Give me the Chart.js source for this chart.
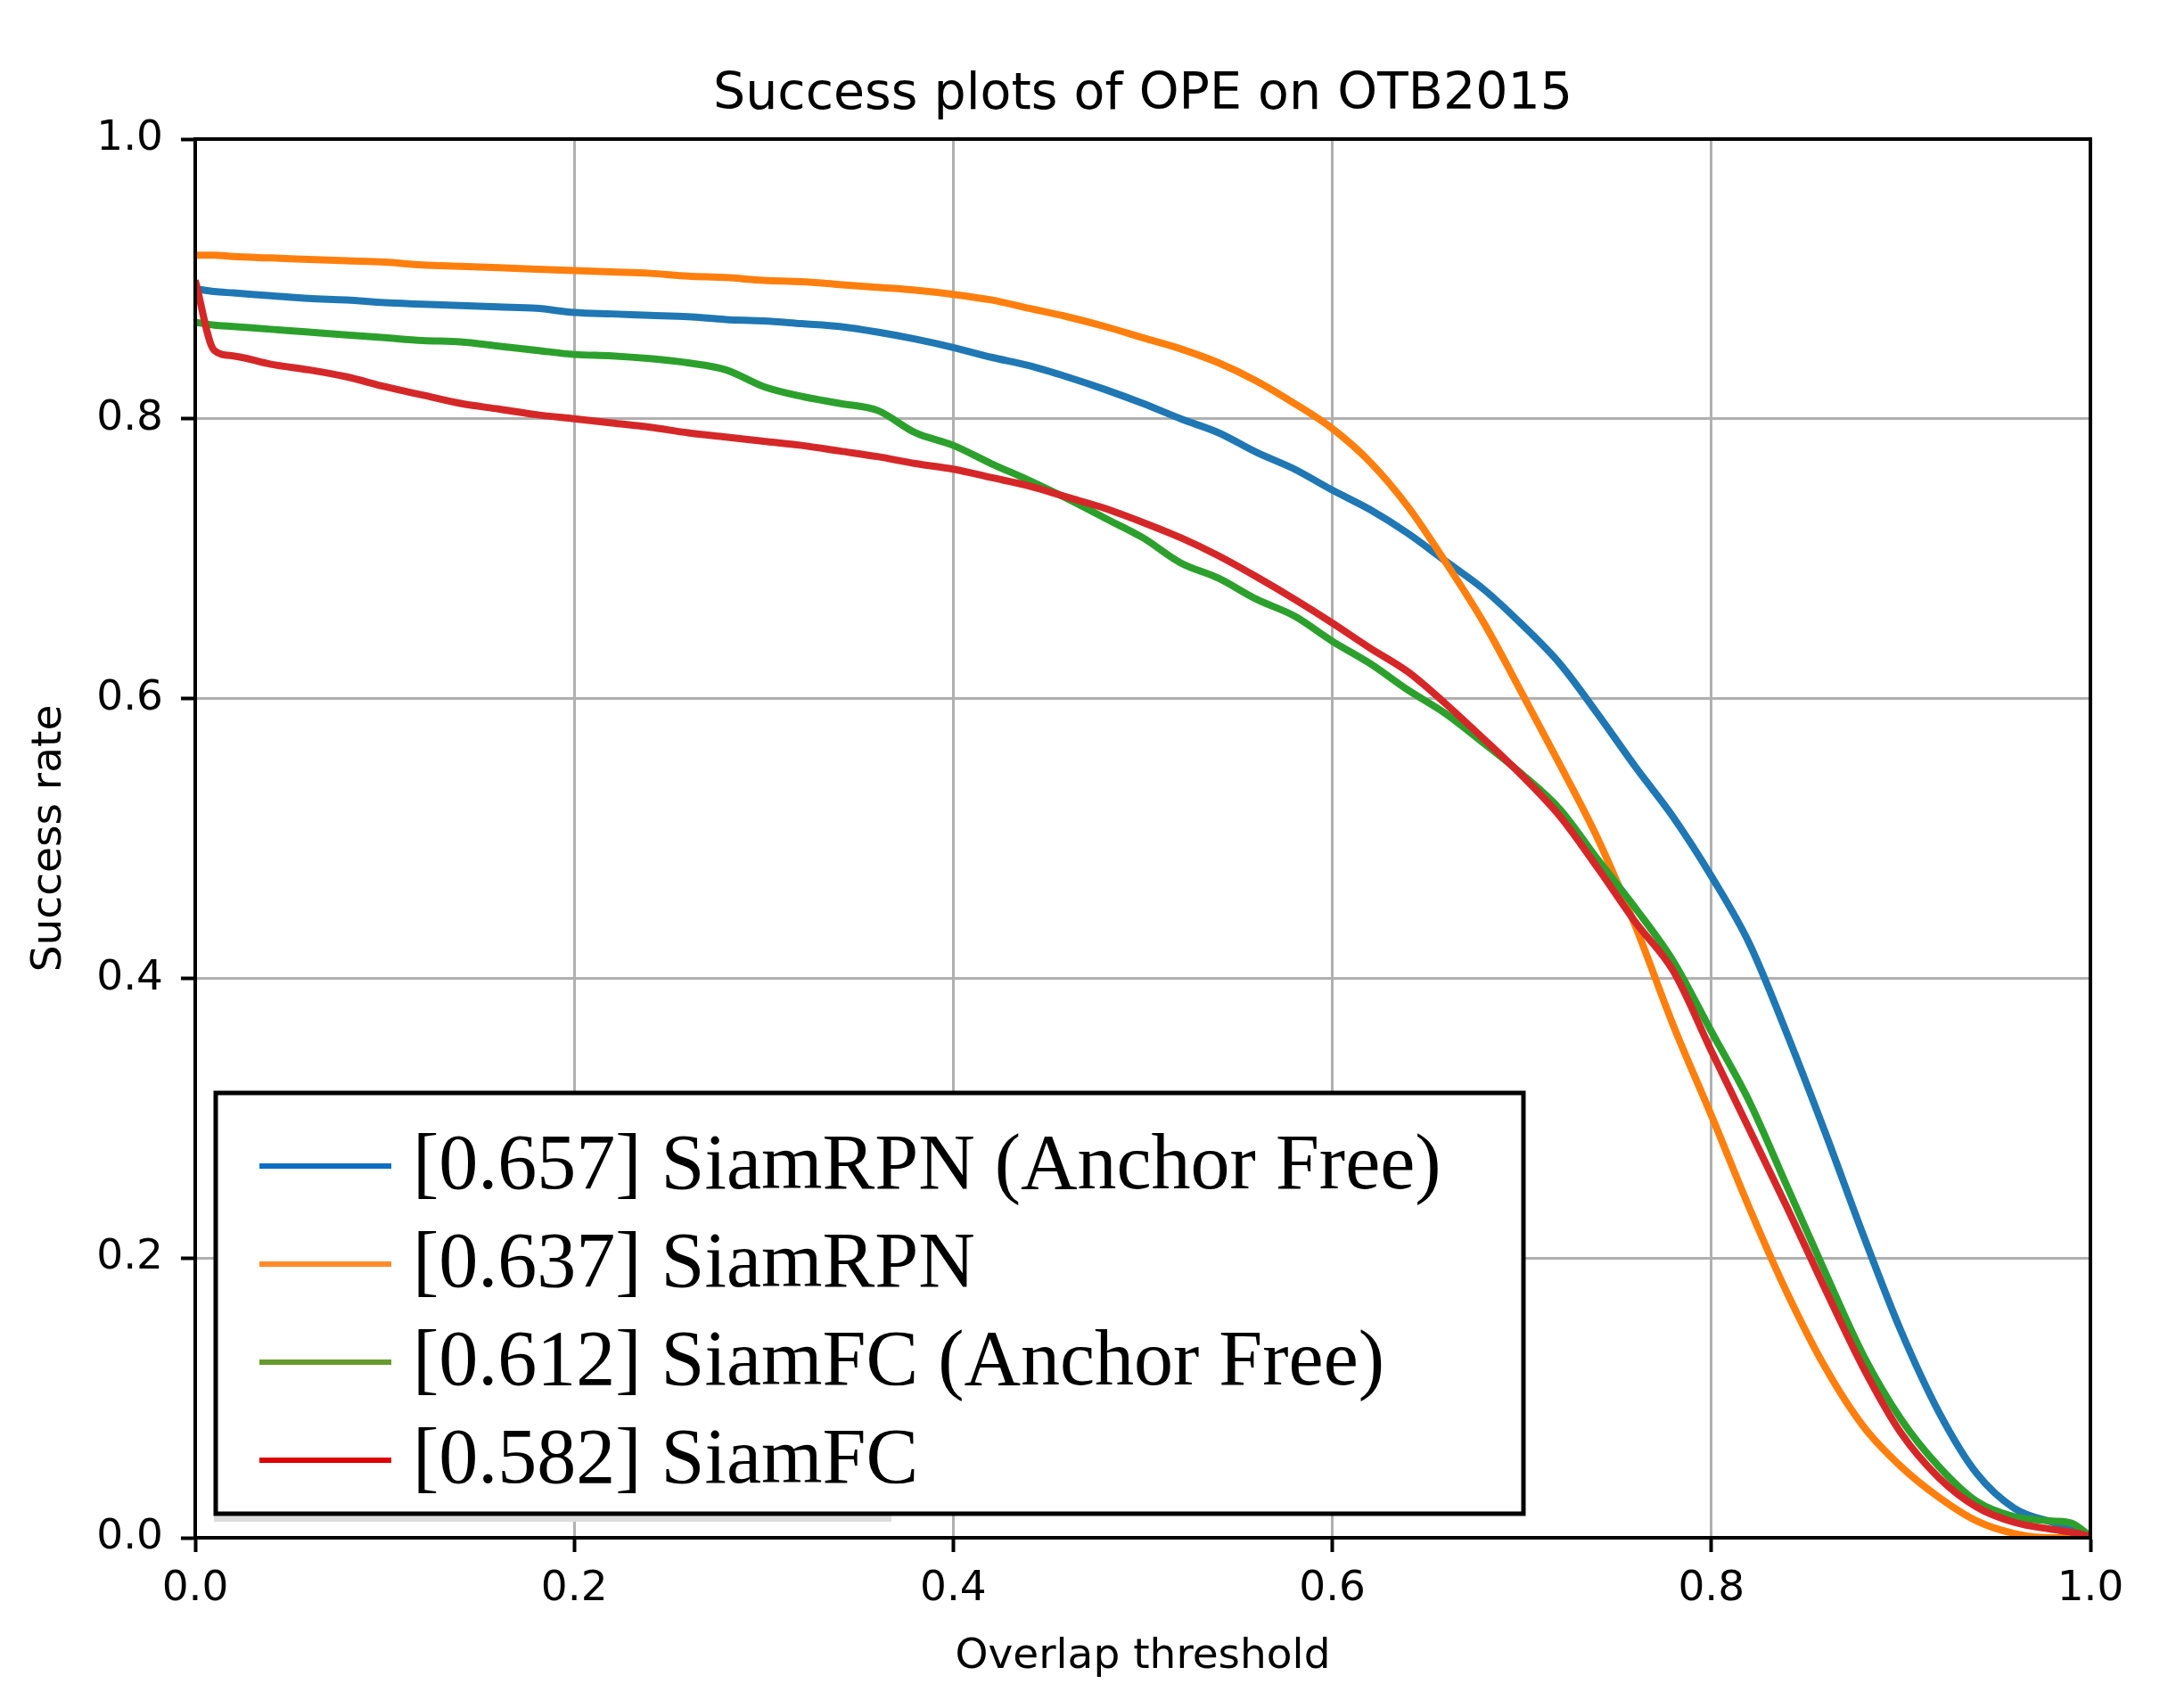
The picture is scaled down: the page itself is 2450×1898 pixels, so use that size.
<!DOCTYPE html>
<html>
<head>
<meta charset="utf-8">
<script src="https://cdn.jsdelivr.net/npm/chart.js@4.4.1/dist/chart.umd.min.js"></script>
<style>
html,body{margin:0;padding:0;background:#ffffff;}
canvas{display:block;}
</style>
</head>
<body>
<canvas id="c" width="2450" height="1898" style="width:2450px;height:1898px"></canvas>
<script>
// ---- data ----
const chartTitle = 'Success plots of OPE on OTB2015';
const xAxisTitle = 'Overlap threshold';
const yAxisTitle = 'Success rate';
const tickValues = [0.0, 0.2, 0.4, 0.6, 0.8, 1.0];

const thresholds = [0, 0.01, 0.02, 0.04, 0.06, 0.08, 0.10, 0.12, 0.14, 0.16, 0.18, 0.20,
  0.22, 0.24, 0.26, 0.28, 0.30, 0.32, 0.34, 0.36, 0.38, 0.40, 0.42, 0.44, 0.46, 0.48, 0.50,
  0.52, 0.54, 0.56, 0.58, 0.60, 0.62, 0.64, 0.66, 0.68, 0.70, 0.72, 0.74, 0.76, 0.78, 0.80,
  0.82, 0.84, 0.86, 0.88, 0.90, 0.92, 0.94, 0.96, 0.98, 0.99, 1.00];

const seriesLabels = [
  '[0.657] SiamRPN (Anchor Free)',
  '[0.637] SiamRPN',
  '[0.612] SiamFC (Anchor Free)',
  '[0.582] SiamFC'
];

const siamRPNAnchorFree = [0.893, 0.891, 0.890, 0.888, 0.886, 0.885, 0.883, 0.882, 0.881, 0.880, 0.879, 0.876,
  0.875, 0.874, 0.873, 0.871, 0.870, 0.868, 0.866, 0.862, 0.857, 0.851, 0.844, 0.838, 0.830, 0.821, 0.811,
  0.800, 0.790, 0.776, 0.764, 0.749, 0.735, 0.718, 0.698, 0.678, 0.653, 0.625, 0.589, 0.551, 0.515, 0.473,
  0.425, 0.360, 0.290, 0.217, 0.148, 0.090, 0.046, 0.021, 0.011, 0.007, 0.001];

const siamRPN = [0.917, 0.917, 0.916, 0.915, 0.914, 0.913, 0.912, 0.910, 0.909, 0.908, 0.907, 0.906,
  0.905, 0.904, 0.902, 0.901, 0.899, 0.898, 0.896, 0.894, 0.892, 0.889, 0.885, 0.879, 0.873, 0.866, 0.858,
  0.850, 0.840, 0.827, 0.811, 0.793, 0.769, 0.737, 0.697, 0.654, 0.604, 0.553, 0.500, 0.437, 0.366, 0.302,
  0.236, 0.175, 0.122, 0.080, 0.051, 0.029, 0.012, 0.003, 0.000, 0.000, 0.000];

const siamFCAnchorFree = [0.869, 0.867, 0.866, 0.864, 0.862, 0.860, 0.858, 0.856, 0.855, 0.852, 0.849, 0.846,
  0.845, 0.843, 0.840, 0.835, 0.823, 0.816, 0.811, 0.806, 0.790, 0.781, 0.768, 0.756, 0.743, 0.729, 0.715,
  0.697, 0.686, 0.671, 0.659, 0.641, 0.625, 0.606, 0.589, 0.568, 0.546, 0.521, 0.485, 0.450, 0.412, 0.362,
  0.312, 0.251, 0.190, 0.131, 0.085, 0.051, 0.026, 0.015, 0.012, 0.0105, 0.001];

const siamFC = [0.899, 0.849, 0.845, 0.839, 0.835, 0.830, 0.823, 0.817, 0.811, 0.807, 0.803, 0.800,
  0.797, 0.794, 0.790, 0.787, 0.784, 0.781, 0.777, 0.773, 0.768, 0.764, 0.758, 0.752, 0.744, 0.736, 0.726,
  0.715, 0.702, 0.687, 0.671, 0.654, 0.636, 0.619, 0.596, 0.571, 0.545, 0.516, 0.479, 0.440, 0.405, 0.348,
  0.292, 0.236, 0.178, 0.122, 0.075, 0.043, 0.022, 0.011, 0.006, 0.004, 0.001];

const seriesValues = [siamRPNAnchorFree, siamRPN, siamFCAnchorFree, siamFC];

// ---- styles ----
const lineColors = ['#1f77b4', '#ff7f0e', '#2ca02c', '#d62728'];
const legendColors = ['#0a6fc2', '#ff8a2a', '#679a2e', '#dd0000'];

Chart.defaults.font.family = "'DejaVu Sans', sans-serif";
Chart.defaults.color = '#000000';

const datasets = seriesValues.map((vals, i) => ({
  label: seriesLabels[i],
  data: thresholds.map((t, k) => ({ x: t, y: vals[k] })),
  borderColor: lineColors[i],
  backgroundColor: lineColors[i],
  legendColor: legendColors[i],
  borderWidth: 8,
  pointRadius: 0,
  cubicInterpolationMode: 'monotone',
  fill: false,
  order: seriesValues.length - i,
  borderJoinStyle: 'round',
  borderCapStyle: 'butt'
}));

const framePlugin = {
  id: 'frame',
  afterDatasetsDraw(chart) {
    const { ctx, chartArea: a } = chart;
    ctx.save();
    ctx.strokeStyle = '#000000';
    ctx.lineWidth = 4;
    ctx.strokeRect(a.left, a.top, a.right - a.left, a.bottom - a.top);
    ctx.restore();
  }
};

const boxLegendPlugin = {
  id: 'boxLegend',
  afterDraw(chart) {
    const { ctx, chartArea: a } = chart;
    const left = a.left + 23, top = a.top + 1070, w = 1467, h = 472;
    ctx.save();
    // faint shadow remnant
    ctx.fillStyle = '#dcdcdc';
    ctx.fillRect(left - 2, top + 230, 760, h - 230 + 9);
    // box
    ctx.fillStyle = '#ffffff';
    ctx.fillRect(left, top, w, h);
    ctx.strokeStyle = '#000000';
    ctx.lineWidth = 5;
    ctx.strokeRect(left, top, w, h);
    // entries
    ctx.font = "88px 'Liberation Serif', 'Times New Roman', serif";
    ctx.textBaseline = 'alphabetic';
    ctx.textAlign = 'left';
    chart.data.datasets.forEach((ds, i) => {
      const y = top + 82 + i * 110;
      ctx.strokeStyle = ds.legendColor;
      ctx.lineWidth = 6;
      ctx.beginPath();
      ctx.moveTo(left + 49, y);
      ctx.lineTo(left + 197, y);
      ctx.stroke();
      ctx.fillStyle = '#000000';
      ctx.fillText(ds.label, left + 221, y + 25);
    });
    ctx.restore();
  }
};

const tickFont = { size: 47, family: "'DejaVu Sans', sans-serif" };

new Chart(document.getElementById('c'), {
  type: 'line',
  data: { datasets },
  options: {
    responsive: false,
    animation: false,
    devicePixelRatio: 1,
    layout: { padding: { left: 0, right: 105, top: 0, bottom: 0 } },
    plugins: {
      legend: { display: false },
      tooltip: { enabled: false },
      title: {
        display: true,
        text: chartTitle,
        fullSize: false,
        color: '#000000',
        font: { size: 57, weight: 'normal', lineHeight: 1.2 },
        padding: { top: 73, bottom: 14.6 }
      }
    },
    scales: {
      x: {
        type: 'linear',
        min: 0,
        max: 1,
        afterFit(scale) { scale.height = 173; },
        afterBuildTicks(scale) { scale.ticks = tickValues.map(v => ({ value: v })); },
        ticks: {
          font: tickFont,
          color: '#000000',
          padding: 14,
          maxRotation: 0,
          autoSkip: false,
          callback: v => Number(v).toFixed(1)
        },
        grid: {
          color: '#b0b0b0',
          lineWidth: 3,
          drawTicks: true,
          tickLength: 16,
          tickColor: '#000000',
          tickWidth: 4
        },
        border: { display: true, color: '#000000', width: 4 },
        title: {
          display: true,
          text: xAxisTitle,
          color: '#000000',
          font: { size: 47, lineHeight: 1.2 },
          padding: { top: 0, bottom: 11 }
        }
      },
      y: {
        type: 'linear',
        min: 0,
        max: 1,
        afterFit(scale) { scale.width = 219; },
        afterBuildTicks(scale) { scale.ticks = tickValues.map(v => ({ value: v })); },
        ticks: {
          font: tickFont,
          color: '#000000',
          padding: 20,
          autoSkip: false,
          callback: v => Number(v).toFixed(1)
        },
        grid: {
          color: '#b0b0b0',
          lineWidth: 3,
          drawTicks: true,
          tickLength: 16,
          tickColor: '#000000',
          tickWidth: 4
        },
        border: { display: true, color: '#000000', width: 4 },
        title: {
          display: true,
          text: yAxisTitle,
          color: '#000000',
          font: { size: 47, lineHeight: 1.2 },
          padding: { top: 28, bottom: 0 }
        }
      }
    }
  },
  plugins: [framePlugin, boxLegendPlugin]
});
</script>
</body>
</html>
